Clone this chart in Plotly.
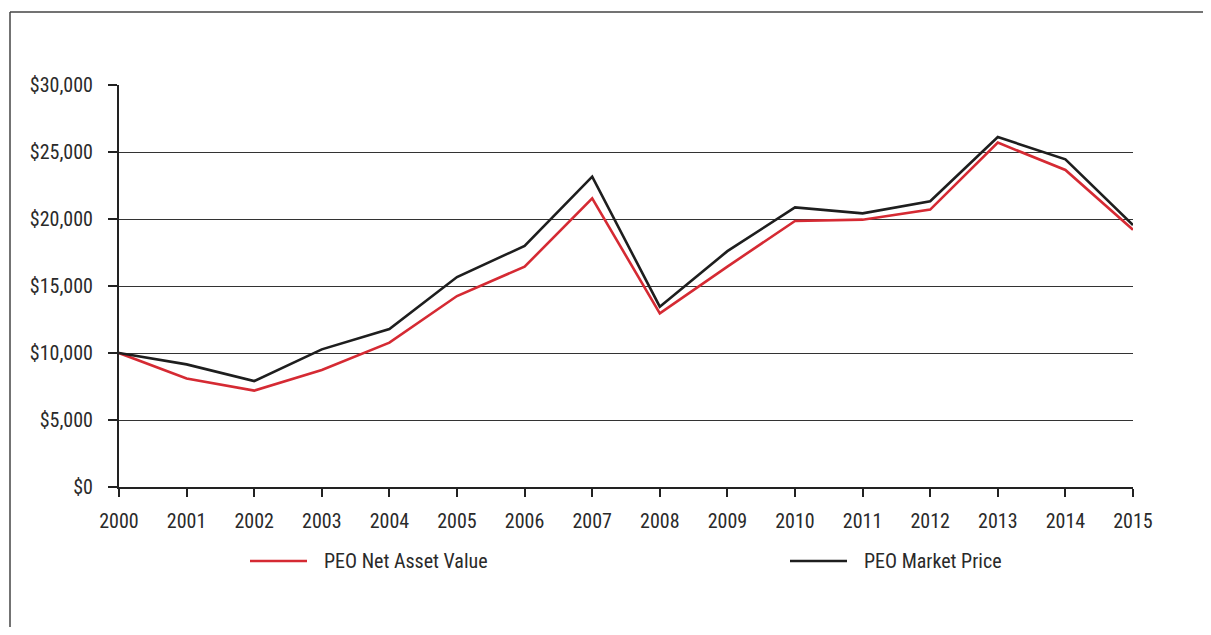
import plotly.graph_objects as go

years = list(range(2000, 2016))
nav = [10000, 8100, 7190, 8730, 10770, 14250, 16440, 21540, 12960, 16450, 19850, 19950, 20700, 25700, 23660, 19200]
market = [10000, 9150, 7910, 10270, 11790, 15670, 17990, 23160, 13460, 17600, 20870, 20420, 21320, 26120, 24450, 19550]
y_ticks = [0, 5000, 10000, 15000, 20000, 25000, 30000]
y_labels = ["$0", "$5,000", "$10,000", "$15,000", "$20,000", "$25,000", "$30,000"]
names = ["PEO Net Asset Value", "PEO Market Price"]
colors = ["#d52a33", "#1e1e1e"]

FONT = "Roboto Condensed, Liberation Sans, Arial, sans-serif"
FS = 20
FW = 400
FC = "#2a2a2a"

# page has an 8px body margin; keep figure inside viewport
OFF = 8
W, H = 1211 - 2 * OFF, 635 - 2 * OFF
L, T = 119 - OFF, 85 - OFF
pw, ph = 1014, 402
R, B = W - L - pw, H - T - ph

def px(x):  # page pixel -> paper x
    return (x - OFF - L) / pw

def py(y):  # page pixel -> paper y
    return (OFF + T + ph - y) / ph

fig = go.Figure()
for name, vals, c in zip(names, [nav, market], colors):
    fig.add_trace(go.Scatter(x=years, y=vals, mode="lines", name=name,
                             line=dict(color=c, width=2.6), showlegend=False))

frame = dict(color="#444", width=1.5)
shapes = [
    dict(type="line", xref="paper", yref="paper", x0=px(10), x1=px(1240), y0=py(12), y1=py(12), line=frame),
    dict(type="line", xref="paper", yref="paper", x0=px(10), x1=px(10), y0=py(12), y1=py(660), line=frame),
]
annotations = []
legend_x = [250, 790]
for name, c, lx in zip(names, colors, legend_x):
    shapes.append(dict(type="line", xref="paper", yref="paper", x0=px(lx), x1=px(lx + 57),
                       y0=py(561), y1=py(561), line=dict(color=c, width=2.6)))
    annotations.append(dict(xref="paper", yref="paper", x=px(lx + 72), y=py(561), text=name,
                            showarrow=False, xanchor="left", yanchor="middle",
                            font=dict(family=FONT, size=FS, color=FC, weight=FW)))

tf = dict(family=FONT, size=FS, color=FC, weight=FW)
fig.update_layout(
    width=W, height=H,
    margin=dict(l=L, r=R, t=T, b=B),
    paper_bgcolor="white", plot_bgcolor="white",
    font=tf,
    shapes=shapes, annotations=annotations,
    xaxis=dict(range=[2000, 2015], tickmode="array", tickvals=years,
               ticktext=[str(y) for y in years], showgrid=False, zeroline=False,
               showline=True, linecolor="#222", linewidth=2, ticks="outside",
               ticklen=8, tickwidth=1.5, tickcolor="#222", ticklabelstandoff=7,
               tickfont=tf),
    yaxis=dict(range=[0, 30000], tickmode="array", tickvals=y_ticks, ticktext=y_labels,
               showgrid=True, gridcolor="#333", gridwidth=1, zeroline=False,
               showline=True, linecolor="#222", linewidth=2, ticks="outside",
               ticklen=9, tickwidth=1.5, tickcolor="#222", ticklabelstandoff=11,
               tickfont=tf),
)

fig.write_html("out.html")
